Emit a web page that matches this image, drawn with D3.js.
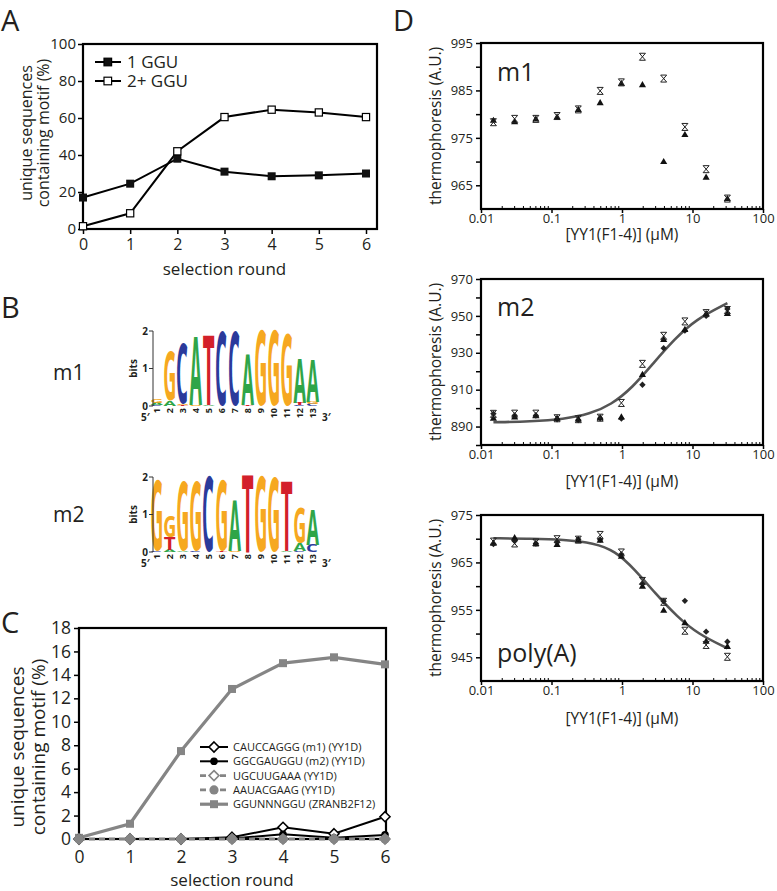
<!DOCTYPE html>
<html><head><meta charset="utf-8">
<script src="https://cdn.jsdelivr.net/npm/d3@7"></script>
<style>
body{margin:0;background:#fff}
svg{display:block}
text{font-family:"Open Sans",sans-serif;fill:#231f20}
</style>
</head><body>
<svg id="c" width="777" height="891"></svg>
<script>
// ---------- DATA ----------
const rounds = [0,1,2,3,4,5,6];
const ggu1 = [17,24.5,38,31,28.5,29,30];
const ggu2 = [1.5,8.5,42,60.5,64.5,63,60.5];
const aYTicks = [0,20,40,60,80,100];

const motifM1 = [0,0,0,0.15,1.0,0.45,1.9];
const motifM2 = [0,0,0,0.05,0.4,0.1,0.35];
const motifUGC = [0,0,0,0,0,0,0];
const motifAAU = [0,0,0,0,0,0,0];
const motifZRANB = [0.1,1.3,7.5,12.8,15.0,15.5,14.9];
const cYTicks = [0,2,4,6,8,10,12,14,16,18];
const cLegend = ["CAUCCAGGG (m1) (YY1D)","GGCGAUGGU (m2) (YY1D)","UGCUUGAAA (YY1D)","AAUACGAAG (YY1D)","GGUNNNGGU (ZRANB2F12)"];

const conc = [0.015,0.03,0.06,0.12,0.24,0.49,0.98,1.95,3.9,7.8,15.6,31.25];
const m1Tri   = [978.6,978.3,978.9,979.3,980.9,982.3,986.4,986.1,969.9,975.6,966.6,962.1];
const m1Cross = [978.3,979.0,979.0,979.6,981.0,984.9,986.7,992.1,987.5,977.3,968.4,962.2];
const m2Tri   = [894.3,895.0,895.6,894.3,893.8,894.6,895.0,918.0,937.0,942.4,951.0,951.0];
const m2Cross = [896.9,897.0,897.0,894.5,894.0,894.8,902.8,924.0,939.2,947.0,951.5,953.2];
const m2Dia   = [897.0,896.0,896.0,894.0,893.5,894.5,894.3,912.7,932.5,942.0,950.0,953.8];
const m2FitX  = [0.015,0.05,0.15,0.35,0.7,1.4,2.8,5.6,11,31.25];
const m2FitY  = [892.3,892.8,894.0,896.8,901.8,911.0,924.5,937.5,948.0,956.9];
const pATri   = [969.0,970.1,968.9,968.7,969.6,969.6,966.2,959.9,954.8,952.2,948.3,947.2];
const pACross = [969.4,969.0,969.2,969.9,969.8,970.8,967.1,961.1,956.7,950.6,947.6,945.1];
const pADia   = [968.9,969.5,969.0,969.3,969.9,969.8,966.7,960.5,956.8,956.9,950.4,948.3];
const pAFitX  = [0.015,0.05,0.15,0.4,0.8,1.5,3,6,12,31.25];
const pAFitY  = [970.1,970.0,969.8,969.1,967.4,963.6,958.4,953.6,949.9,946.9];
const logTicks = [0.01,0.1,1,10,100];

const logoPositions = [1,2,3,4,5,6,7,8,9,10,11,12,13];
const logoM1 = [
 [['C',0.03],['A',0.05],['G',0.1]],
 [['A',0.14],['G',1.27]],
 [['U',0.03],['G',0.03],['C',1.56]],
 [['G',0.03],['A',1.77]],
 [['A',0.02],['U',1.8]],
 [['C',1.95]],
 [['C',1.95]],
 [['U',0.04],['A',1.3]],
 [['G',1.97]],
 [['G',1.97]],
 [['G',1.88]],
 [['C',0.03],['U',0.06],['A',1.12]],
 [['C',0.05],['G',0.06],['A',1.1]]
];
const logoM2 = [
 [['C',0.02],['G',1.85]],
 [['A',0.05],['U',0.33],['G',0.55]],
 [['A',0.03],['G',1.8]],
 [['C',0.03],['G',1.8]],
 [['C',1.97]],
 [['U',0.03],['G',1.82]],
 [['G',0.04],['A',1.3]],
 [['U',2.0]],
 [['G',1.97]],
 [['G',1.95]],
 [['A',0.03],['U',1.82]],
 [['C',0.04],['A',0.2],['G',0.93]],
 [['C',0.2],['A',0.9]]
];

// ---------- DRAW ----------
const svg = d3.select('#c');
const INK = '#231f20';
function box(x0,x1,y0,y1){
  svg.append('rect').attr('x',x0).attr('y',y0).attr('width',x1-x0).attr('height',y1-y0)
    .attr('fill','none').attr('stroke','#000').attr('stroke-width',2.2);
}
function styleAxis(g,fs){
  g.select('.domain').remove();
  g.selectAll('line').attr('stroke','#000').attr('stroke-width',1.5);
  g.selectAll('text').attr('font-family','"Open Sans",sans-serif').attr('font-size',fs).attr('fill',INK);
}
function letter(t,x,y){ svg.append('text').attr('x',x).attr('y',y).attr('font-size',29).text(t); }
letter('A',1,31); letter('B',1,318); letter('C',1,633); letter('D',393,31);
const fmtInt = d3.format('d');

// ===== Panel A =====
const xA = d3.scaleLinear([0,6],[83,366]);
const yA = d3.scaleLinear([0,100],[229,44]);
styleAxis(svg.append('g').attr('transform','translate(83,0)').call(d3.axisLeft(yA).tickValues(aYTicks).tickSize(5).tickPadding(2).tickFormat(fmtInt)),15);
styleAxis(svg.append('g').attr('transform','translate(0,229)').call(d3.axisBottom(xA).tickValues(rounds).tickSize(5).tickPadding(4.5).tickFormat(fmtInt)),16);
box(83,377,44,229);
const lineA = d3.line().x((d,i)=>xA(rounds[i])).y(d=>yA(d));
svg.append('path').attr('d',lineA(ggu1)).attr('fill','none').attr('stroke','#000').attr('stroke-width',2);
svg.append('path').attr('d',lineA(ggu2)).attr('fill','none').attr('stroke','#000').attr('stroke-width',2);
svg.append('g').selectAll('rect').data(ggu1).join('rect').attr('x',(d,i)=>xA(rounds[i])-4).attr('y',d=>yA(d)-4).attr('width',8).attr('height',8).attr('fill','#111');
svg.append('g').selectAll('rect').data(ggu2).join('rect').attr('x',(d,i)=>xA(rounds[i])-3.6).attr('y',d=>yA(d)-3.6).attr('width',7.2).attr('height',7.2).attr('fill','#fff').attr('stroke','#000').attr('stroke-width',1.2);
[['1 GGU','#111'],['2+ GGU','#fff']].forEach((e,i)=>{
  const y = 62 + i*19;
  svg.append('line').attr('x1',95).attr('x2',121).attr('y1',y).attr('y2',y).attr('stroke','#000').attr('stroke-width',2);
  svg.append('rect').attr('x',104).attr('y',y-3.8).attr('width',7.6).attr('height',7.6).attr('fill',e[1]).attr('stroke','#000').attr('stroke-width',1.2);
  svg.append('text').attr('x',127).attr('y',y+6).attr('font-size',17).text(e[0]);
});
svg.append('text').attr('x',xA(3)).attr('y',275).attr('text-anchor','middle').attr('font-size',17).text('selection round');
svg.append('text').attr('transform','translate(32,133) rotate(-90)').attr('text-anchor','middle').attr('font-size',16).text('unique sequences');
svg.append('text').attr('transform','translate(49,133) rotate(-90)').attr('text-anchor','middle').attr('font-size',16).text('containing motif (%)');

// ===== Panel B (logos) =====
const ctx = document.createElement('canvas').getContext('2d');
const LF = '"Liberation Sans", Arial, sans-serif';
ctx.font = 'bold 100px ' + LF;
const gm = {};
['A','C','G','T'].forEach(ch=>{ const m=ctx.measureText(ch);
  gm[ch]={l:m.actualBoundingBoxLeft,r:m.actualBoundingBoxRight,a:m.actualBoundingBoxAscent,d:m.actualBoundingBoxDescent}; });
const baseColor = {A:'#2fa548',C:'#2b3a9b',G:'#f6a820',U:'#d3202a'};
const colX = d3.scaleLinear([1,13],[157,313]);
function drawLogo(data,yZero,label,labelY){
  const yb = d3.scaleLinear([0,2],[yZero,yZero-75]);
  const g = svg.append('g');
  data.forEach((stack,i)=>{
    let cum = 0;
    stack.forEach(([b,h])=>{
      const ch = b==='U'?'T':b;
      const m = gm[ch];
      const w = 12.3, hp = yb(cum)-yb(cum+h);
      const xl = colX(logoPositions[i]) - w/2, ybot = yb(cum);
      const sx = w/(m.l+m.r), sy = hp/(m.a+m.d);
      g.append('text').attr('font-family',LF).attr('font-weight','bold').attr('font-size',100)
        .style('fill',baseColor[b])
        .attr('transform',`translate(${xl},${ybot}) scale(${sx},${sy}) translate(${m.l},${-m.d})`).text(ch);
      cum += h;
    });
  });
  g.append('line').attr('x1',153).attr('x2',153).attr('y1',yb(0)).attr('y2',yb(2)).attr('stroke','#333').attr('stroke-width',1);
  [0,1,2].forEach(v=>{
    g.append('line').attr('x1',149).attr('x2',153).attr('y1',yb(v)).attr('y2',yb(v)).attr('stroke','#333').attr('stroke-width',1);
    g.append('text').attr('x',148).attr('y',yb(v)+3.5).attr('text-anchor','end').attr('font-family',LF).attr('font-weight','bold').attr('font-size',10).text(v);
  });
  g.append('text').attr('transform',`translate(137,${yb(1)}) rotate(-90)`).attr('text-anchor','middle').attr('font-family',LF).attr('font-weight','bold').attr('font-size',10).text('bits');
  logoPositions.forEach(p=>{
    g.append('text').attr('transform',`translate(${colX(p)+3.3},${yZero+2}) rotate(-90)`).attr('text-anchor','end')
      .attr('font-family',LF).attr('font-weight','bold').attr('font-size',9).text(p);
  });
  g.append('text').attr('x',141).attr('y',yZero+15).attr('font-family',LF).attr('font-weight','bold').attr('font-size',10).text('5′');
  g.append('text').attr('x',322).attr('y',yZero+15).attr('font-family',LF).attr('font-weight','bold').attr('font-size',10).text('3′');
  svg.append('text').attr('x',53).attr('y',labelY).attr('font-size',21).text(label);
}
drawLogo(logoM1,406,'m1',380);
drawLogo(logoM2,552,'m2',522);

// ===== Panel C =====
const xC = d3.scaleLinear([0,6],[79,385]);
const yC = d3.scaleLinear([0,18],[839,628]);
styleAxis(svg.append('g').attr('transform','translate(79,0)').call(d3.axisLeft(yC).tickValues(cYTicks).tickSize(5).tickPadding(3).tickFormat(fmtInt)),17.5);
styleAxis(svg.append('g').attr('transform','translate(0,839)').call(d3.axisBottom(xC).tickValues(rounds).tickSize(5).tickPadding(6.5).tickFormat(fmtInt)),17.5);
box(79,386,628,839);
const lineC = d3.line().x((d,i)=>xC(rounds[i])).y(d=>yC(d));
const GRAY = '#858585';
const diamond = r => `M0,${-r}L${r},0L0,${r}L${-r},0Z`;
const seriesC = [
  {v:motifZRANB, stroke:GRAY, sw:3.2, dash:null, mk:'sq', fill:GRAY, ms:GRAY},
  {v:motifM1, stroke:'#000', sw:2, dash:null, mk:'dia', fill:'#fff', ms:'#000'},
  {v:motifM2, stroke:'#000', sw:2, dash:null, mk:'circ', fill:'#000', ms:'#000'},
  {v:motifUGC, stroke:GRAY, sw:2.6, dash:'6,4', mk:'dia', fill:'#fff', ms:GRAY},
  {v:motifAAU, stroke:GRAY, sw:2.6, dash:'6,4', mk:'circ', fill:GRAY, ms:GRAY}
];
function marker(g,s,x,y){
  if(s.mk==='sq') g.append('rect').attr('x',x-4).attr('y',y-4).attr('width',8).attr('height',8).attr('fill',s.fill);
  else if(s.mk==='dia') g.append('path').attr('d',diamond(5)).attr('transform',`translate(${x},${y})`).attr('fill',s.fill).attr('stroke',s.ms).attr('stroke-width',1.6);
  else g.append('circle').attr('cx',x).attr('cy',y).attr('r',s.fill===GRAY?4.6:3.8).attr('fill',s.fill);
}
seriesC.forEach(s=>{
  svg.append('path').attr('d',lineC(s.v)).attr('fill','none').attr('stroke',s.stroke).attr('stroke-width',s.sw).attr('stroke-dasharray',s.dash);
  const g = svg.append('g');
  s.v.forEach((d,i)=>marker(g,s,xC(rounds[i]),yC(d)));
});
const legOrder = [1,2,3,4,0];
legOrder.forEach((k,i)=>{
  const s = seriesC[k], y = 747 + i*14.3;
  svg.append('line').attr('x1',200).attr('x2',228).attr('y1',y).attr('y2',y).attr('stroke',s.stroke).attr('stroke-width',s.sw).attr('stroke-dasharray',s.dash);
  marker(svg,s,214,y);
  svg.append('text').attr('x',233).attr('y',y+4).attr('font-size',11).text(cLegend[i]);
});
svg.append('text').attr('x',xC(3)).attr('y',886).attr('text-anchor','middle').attr('font-size',17).text('selection round');
svg.append('text').attr('transform','translate(24,747) rotate(-90)').attr('text-anchor','middle').attr('font-size',19).text('unique sequences');
svg.append('text').attr('transform','translate(45,747) rotate(-90)').attr('text-anchor','middle').attr('font-size',19).text('containing motif (%)');

// ===== Panel D =====
const xD = d3.scaleLog([0.01,100],[481,763]);
const minorX = [];
[0.01,0.1,1,10].forEach(dec=>{ for(let k=2;k<=9;k++) minorX.push(dec*k); });
const cross = 'M-3,-3.5H3M-3,3.5H3M-3,-3.5L3,3.5M3,-3.5L-3,3.5';
const tri = d3.symbol(d3.symbolTriangle,22)();
function dPanel(opt){
  const {top,bot,dom,ticks,labels,name,nameY,series,fitX,fitY,xlabY} = opt;
  const y = d3.scaleLinear(dom,[bot,top]);
  styleAxis(svg.append('g').attr('transform','translate(481,0)').call(d3.axisLeft(y).tickValues(ticks).tickSize(5).tickPadding(3)
    .tickFormat(d=>labels.includes(d)?d:'')),13);
  styleAxis(svg.append('g').attr('transform',`translate(0,${bot})`).call(d3.axisBottom(xD).tickValues(logTicks).tickSize(4).tickPadding(1)
    .tickFormat(d=>String(d))),13);
  const mg = svg.append('g');
  minorX.forEach(v=>mg.append('line').attr('x1',xD(v)).attr('x2',xD(v)).attr('y1',bot).attr('y2',bot-3).attr('stroke','#000').attr('stroke-width',1));
  box(481,763,top,bot);
  if(fitX){
    const ln = d3.line().x((d,i)=>xD(fitX[i])).y(d=>y(d)).curve(d3.curveBasis);
    svg.append('path').attr('d',ln(fitY)).attr('fill','none').attr('stroke','#555').attr('stroke-width',2.6);
  }
  series.forEach(s=>{
    s.v.forEach((d,i)=>{
      const x = xD(conc[i]), yy = y(d);
      if(s.t==='tri') svg.append('path').attr('d',tri).attr('transform',`translate(${x},${yy})`).attr('fill','#111');
      else if(s.t==='dia') svg.append('path').attr('d',diamond(3.2)).attr('transform',`translate(${x},${yy})`).attr('fill','#222');
      else svg.append('path').attr('d',cross).attr('transform',`translate(${x},${yy})`).attr('fill','none').attr('stroke','#222').attr('stroke-width',1);
    });
  });
  svg.append('text').attr('x',497).attr('y',nameY).attr('font-size',25).text(name);
  svg.append('text').attr('x',622).attr('y',xlabY).attr('text-anchor','middle').attr('font-size',15.5).text('[YY1(F1-4)] (µM)');
  svg.append('text').attr('transform',`translate(441,${(top+bot)/2}) rotate(-90)`).attr('text-anchor','middle').attr('font-size',15.5).text('thermophoresis (A.U.)');
}
dPanel({top:43,bot:209,dom:[960,995],ticks:[965,970,975,980,985,990,995],labels:[965,975,985,995],name:'m1',nameY:81,
  series:[{t:'tri',v:m1Tri},{t:'cross',v:m1Cross}],xlabY:240});
dPanel({top:279,bot:445,dom:[880,970],ticks:[880,890,900,910,920,930,940,950,960,970],labels:[890,910,930,950,970],name:'m2',nameY:316,
  series:[{t:'dia',v:m2Dia},{t:'tri',v:m2Tri},{t:'cross',v:m2Cross}],fitX:m2FitX,fitY:m2FitY,xlabY:487});
dPanel({top:515,bot:681,dom:[940,975],ticks:[945,950,955,960,965,970,975],labels:[945,955,965,975],name:'poly(A)',nameY:662,
  series:[{t:'dia',v:pADia},{t:'tri',v:pATri},{t:'cross',v:pACross}],fitX:pAFitX,fitY:pAFitY,xlabY:724});
</script>
</body></html>
